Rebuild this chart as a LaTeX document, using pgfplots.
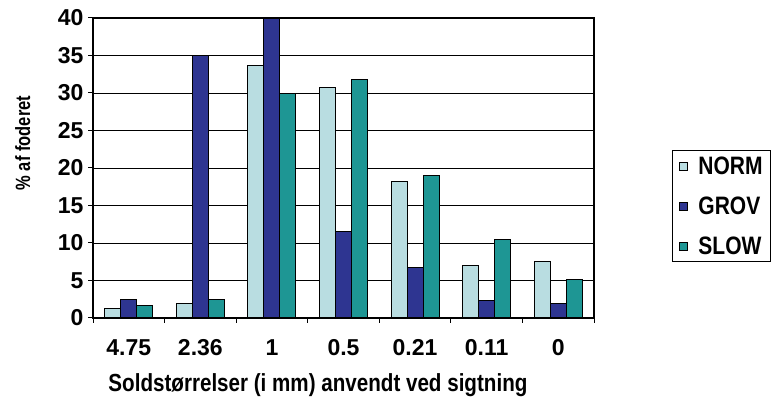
\documentclass[border=0pt]{standalone}
\usepackage{pgfplots}
\pgfplotsset{compat=1.18}
\usepackage{fontspec}
\setmainfont{Liberation Sans}
\definecolor{norm}{RGB}{185,221,225}
\definecolor{grov}{RGB}{46,53,145}
\definecolor{slow}{RGB}{30,150,148}
\begin{document}
\begin{tikzpicture}[x=1pt,y=1pt]
\useasboundingbox (0,0) rectangle (776,403);
\begin{axis}[
  at={(93pt,85pt)}, anchor=south west,
  scale only axis, width=501pt, height=300pt,
  xmin=-0.5, xmax=6.5, ymin=0, ymax=40,
  ybar=0pt, bar width=0.2236,
  xtick={0,...,6}, xticklabels={4.75,2.36,1,0.5,0.21,0.11,0},
  major x tick style={draw=none},
  minor xtick={-0.5,0.5,...,6.5},
  ytick={0,5,...,40},
  tick align=outside, tick pos=left,
  major tick length=5pt, minor tick length=5pt,
  every tick/.style={black, line width=1pt},
  minor x tick style={black, line width=1pt},
  ymajorgrids, grid style={black, line width=0.8pt},
  axis line style={line width=1.2pt},
  /pgf/number format/assume math mode=true,
  ticklabel style={font=\bfseries\fontsize{23}{23}\selectfont},
  xticklabel style={yshift=-13pt},
  yticklabel style={xshift=-1pt},
  xlabel={\scalebox{1}[1.2]{Soldstørrelser (i mm) anvendt ved sigtning}},
  xlabel style={font=\bfseries\fontsize{20.6}{20.6}\selectfont, at={(axis description cs:0.449,-0.225)}, anchor=center},
  ylabel={\scalebox{1}[1.25]{\% af foderet}},
  ylabel style={font=\bfseries\fontsize{16.5}{16.5}\selectfont, at={(axis description cs:-0.14,0.583)}, anchor=center},
  legend style={at={(axis description cs:1.156,0.56)}, anchor=north west, draw=black, line width=1pt,
    font=\bfseries\fontsize{21}{21}\selectfont, row sep=17pt, inner xsep=6pt, inner ysep=4pt,
    legend cell align=left, /tikz/every odd column/.append style={column sep=9pt}},
  legend image code/.code={\draw[#1,line width=0.8pt] (0pt,-4pt) rectangle (8pt,4pt);},
]
\addplot[fill=norm, draw=black, line width=1pt] coordinates {(0,1.33) (1,1.9) (2,33.6) (3,30.7) (4,18.2) (5,6.97) (6,7.47)};
\addplot[fill=grov, draw=black, line width=1pt] coordinates {(0,2.44) (1,35.0) (2,39.9) (3,11.5) (4,6.67) (5,2.35) (6,1.87)};
\addplot[fill=slow, draw=black, line width=1pt] coordinates {(0,1.64) (1,2.44) (2,29.9) (3,31.8) (4,19.0) (5,10.4) (6,5.1)};
\legend{\scalebox{1}[1.2]{NORM},\scalebox{1}[1.2]{GROV},\scalebox{1}[1.2]{SLOW}}
\end{axis}
\end{tikzpicture}
\end{document}
